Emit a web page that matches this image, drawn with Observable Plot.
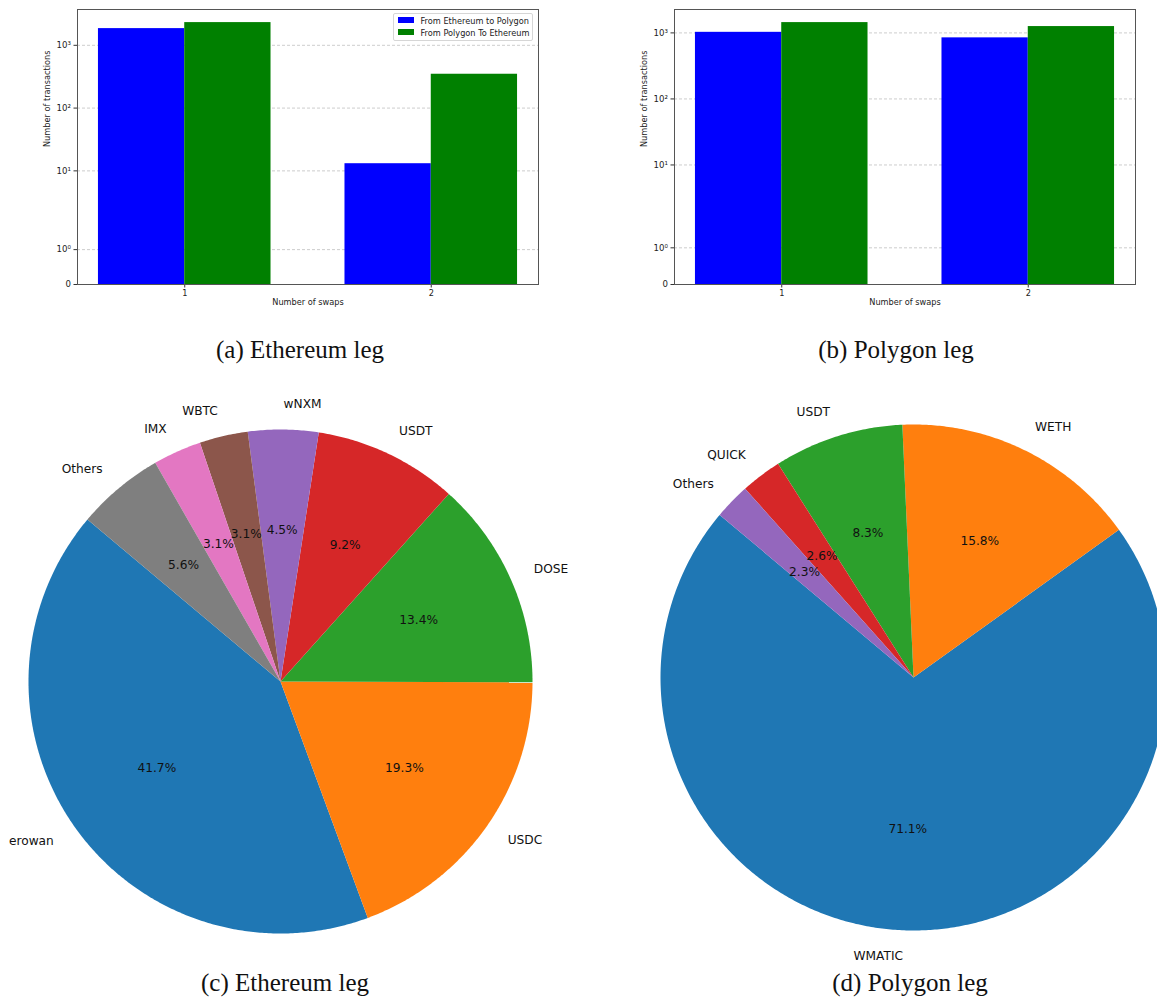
<!DOCTYPE html>
<html>
<head>
<meta charset="utf-8">
<script src="https://cdn.jsdelivr.net/npm/d3@7"></script>
<script src="https://cdn.jsdelivr.net/npm/@observablehq/plot@0.6"></script>
<style>
  html, body { margin: 0; padding: 0; background: #fff; overflow: hidden; }
  #fig { position: relative; width: 1157px; height: 1001px; background: #fff; }
  .panel { position: absolute; }
  .panel svg { display: block; max-width: none; }
  .caption {
    position: absolute; white-space: nowrap; transform: translateX(-50%);
    font-family: "Liberation Serif", "DejaVu Serif", serif; font-size: 25px; line-height: 25px; color: #111;
  }
  .legend {
    position: absolute; background: rgba(255,255,255,0.8); border: 1px solid #d6d6d6; border-radius: 2px;
    font-family: "DejaVu Sans", sans-serif; font-size: 8.2px; color: #222; box-sizing: border-box;
  }
  .legend .patch { position: absolute; width: 16.5px; height: 5.7px; }
  .legend .lbl { position: absolute; white-space: nowrap; line-height: 10px; }
</style>
</head>
<body>
<div id="fig"></div>
<script>
// ---- Swap counts per bridge direction (y: number of transactions) ----
const swaps = [1, 2];
const seriesNames = ["From Ethereum to Polygon", "From Polygon To Ethereum"];
const seriesColors = ["blue", "green"];
const ethLegEthToPoly = [1845, 13];
const ethLegPolyToEth = [2300, 346];
const polyLegEthToPoly = [1020, 841];
const polyLegPolyToEth = [1432, 1247];
const yTickValues = [0, 1, 10, 100, 1000];
const yTickLabels = ["0", "10\u2070", "10\u00b9", "10\u00b2", "10\u00b3"];

// ---- Token shares (percent) ----
const ethTokens = ["erowan", "USDC", "DOSE", "USDT", "wNXM", "WBTC", "IMX", "Others"];
const ethShares = [41.7, 19.3, 13.4, 9.2, 4.5, 3.1, 3.1, 5.6];
const polyTokens = ["WMATIC", "WETH", "USDT", "QUICK", "Others"];
const polyShares = [71.1, 15.8, 8.3, 2.6, 2.3];
const tab10 = ["#1f77b4", "#ff7f0e", "#2ca02c", "#d62728", "#9467bd", "#8c564b", "#e377c2", "#7f7f7f"];

const fig = document.getElementById("fig");

// symmetric log transform: linear below the threshold, log10 above
const LINTHRESH = 2;
const LINSCALE = 1 / (1 - 1 / 10);
function symlog(v) {
  const a = Math.abs(v);
  const t = a <= LINTHRESH ? a * LINSCALE : LINTHRESH * (LINSCALE + Math.log10(a / LINTHRESH));
  return Math.sign(v) * t;
}
const tickLabel = new Map(yTickValues.map((v, i) => [v, yTickLabels[i]]));

const BAR_W = 0.35;

function barPanel({forward, backward, left, width, marginLeft, marginRight, legend}) {
  const rows = swaps.flatMap((s, i) => [
    {swaps: s, series: seriesNames[0], k: 0, value: forward[i]},
    {swaps: s, series: seriesNames[1], k: 1, value: backward[i]}
  ]);
  const yTop = 1.05 * symlog(d3.max(rows, d => d.value));
  const xPad = BAR_W + 0.05 * (swaps[swaps.length - 1] - swaps[0] + 2 * BAR_W);
  const chart = Plot.plot({
    width, height: 320,
    marginLeft, marginRight, marginTop: 9, marginBottom: 36,
    style: {fontFamily: "DejaVu Sans, sans-serif", fontSize: "8.2px", color: "#222", background: "white", overflow: "visible"},
    x: {domain: [swaps[0] - xPad, swaps[swaps.length - 1] + xPad], label: null},
    y: {transform: symlog, domain: [0, yTop], label: null},
    color: {domain: seriesNames, range: seriesColors},
    marks: [
      Plot.gridY(yTickValues.slice(1), {stroke: "#b0b0b0", strokeOpacity: 0.9, strokeWidth: 0.7, strokeDasharray: "3,2"}),
      Plot.rectY(rows, {
        x1: d => d.swaps - BAR_W + d.k * BAR_W,
        x2: d => d.swaps + d.k * BAR_W,
        y1: 0, y2: "value", fill: "series", inset: 0
      }),
      Plot.axisY(yTickValues, {tickSize: 3.5, tickPadding: 3, stroke: "#333", fontSize: 8.6, tickFormat: d => tickLabel.get(d) ?? String(d), label: null}),
      Plot.axisX(swaps, {tickSize: 3.5, tickPadding: 2, stroke: "#333", tickFormat: d => String(d), label: null}),
      Plot.frame({stroke: "#555", strokeWidth: 1}),
      Plot.text(["Number of transactions"], {frameAnchor: "left", rotate: -90, dx: -30, fontSize: 8.2}),
      Plot.text(["Number of swaps"], {frameAnchor: "bottom", dy: 20, fontSize: 8.2})
    ]
  });
  const div = document.createElement("div");
  div.className = "panel";
  div.style.left = left + "px";
  div.style.top = "0px";
  div.appendChild(chart);
  fig.appendChild(div);

  if (legend) {
    const lg = document.createElement("div");
    lg.className = "legend";
    Object.assign(lg.style, {left: legend.left + "px", top: legend.top + "px", width: legend.width + "px", height: legend.height + "px"});
    seriesNames.forEach((name, i) => {
      const p = document.createElement("div");
      p.className = "patch";
      Object.assign(p.style, {left: "3.5px", top: (3.6 + i * 12 - 0.5) + "px", background: seriesColors[i]});
      const t = document.createElement("div");
      t.className = "lbl";
      Object.assign(t.style, {left: "26.5px", top: (1.5 + i * 12) + "px"});
      t.textContent = name;
      lg.appendChild(p);
      lg.appendChild(t);
    });
    fig.appendChild(lg);
  }
}

const START = 140; // degrees, counter-clockwise from +x
const rad = a => a * Math.PI / 180;

function piePanel({tokens, shares, left, top, width, height, cx, cy, r}) {
  const total = d3.sum(shares);
  let cum = 0;
  const wedges = tokens.map((name, i) => {
    const a0 = START + 360 * cum / total;
    cum += shares[i];
    const a1 = START + 360 * cum / total;
    return {name, share: shares[i], a0, a1, mid: (a0 + a1) / 2};
  });
  // outline of each wedge: centre, then along the arc
  const outline = wedges.flatMap(w => {
    const n = Math.max(2, Math.ceil((w.a1 - w.a0) / 0.5));
    const pts = [{name: w.name, angle: null}];
    for (let k = 0; k <= n; ++k) pts.push({name: w.name, angle: w.a0 + (w.a1 - w.a0) * k / n});
    return pts;
  });
  const px = p => p.angle == null ? 0 : Math.cos(rad(p.angle));
  const py = p => p.angle == null ? 0 : Math.sin(rad(p.angle));
  const labelX = w => 1.1 * Math.cos(rad(w.mid));
  const labelY = w => 1.1 * Math.sin(rad(w.mid));
  const chart = Plot.plot({
    width, height,
    margin: 0,
    style: {fontFamily: "DejaVu Sans, sans-serif", fontSize: "12.2px", color: "#111", background: "white"},
    x: {domain: [-cx / r, (width - cx) / r], axis: null},
    y: {domain: [-(height - cy) / r, cy / r], axis: null},
    color: {domain: tokens, range: tab10.slice(0, tokens.length)},
    marks: [
      Plot.line(outline, {x: px, y: py, z: "name", fill: "name", stroke: "none", clip: true}),
      Plot.text(wedges.filter(w => labelX(w) > 0), {x: labelX, y: labelY, text: "name", textAnchor: "start", fontSize: 12.2}),
      Plot.text(wedges.filter(w => labelX(w) <= 0), {x: labelX, y: labelY, text: "name", textAnchor: "end", fontSize: 12.2}),
      Plot.text(wedges, {
        x: w => 0.6 * Math.cos(rad(w.mid)),
        y: w => 0.6 * Math.sin(rad(w.mid)),
        text: w => `${w.share.toFixed(1)}%`, fontSize: 12.2
      })
    ]
  });
  const div = document.createElement("div");
  div.className = "panel";
  div.style.left = left + "px";
  div.style.top = top + "px";
  div.style.width = width + "px";
  div.style.height = height + "px";
  div.style.overflow = "hidden";
  div.appendChild(chart);
  fig.appendChild(div);
}

function caption(text, x, y) {
  const c = document.createElement("div");
  c.className = "caption";
  c.style.left = x + "px";
  c.style.top = y + "px";
  c.textContent = text;
  fig.appendChild(c);
}

barPanel({forward: ethLegEthToPoly, backward: ethLegPolyToEth, left: 0, width: 580, marginLeft: 77, marginRight: 42,
  legend: {left: 393, top: 13, width: 140, height: 27.5}});
barPanel({forward: polyLegEthToPoly, backward: polyLegPolyToEth, left: 590, width: 567, marginLeft: 84, marginRight: 22});

piePanel({tokens: ethTokens, shares: ethShares, left: 0, top: 375, width: 580, height: 592, cx: 280, cy: 306, r: 252});
piePanel({tokens: polyTokens, shares: polyShares, left: 585, top: 375, width: 572, height: 592, cx: 328, cy: 302, r: 253});

caption("(a) Ethereum leg", 300, 337);
caption("(b) Polygon leg", 896, 337);
caption("(c) Ethereum leg", 285, 970);
caption("(d) Polygon leg", 910, 970);
</script>
</body>
</html>
